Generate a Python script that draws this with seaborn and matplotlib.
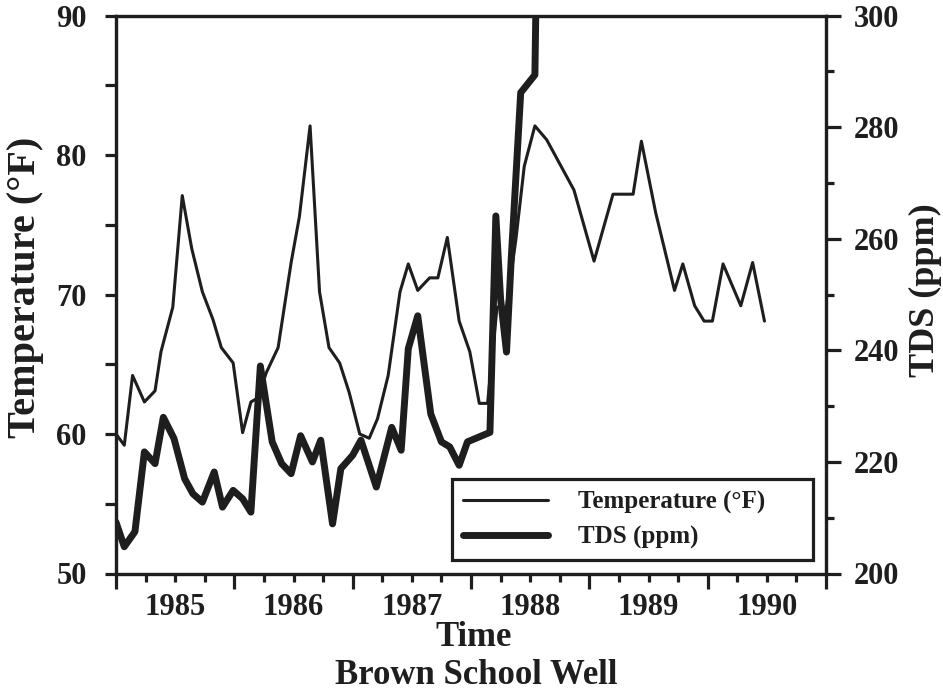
import matplotlib
matplotlib.use("Agg")
import matplotlib.pyplot as plt
import seaborn as sns
import pandas as pd
from matplotlib.lines import Line2D

# ---------------- data ----------------
temp_time = [1984.50, 1984.57, 1984.64, 1984.74, 1984.83, 1984.88, 1984.98, 1985.06,
             1985.14, 1985.23, 1985.32, 1985.39, 1985.49, 1985.57, 1985.64, 1985.70,
             1985.77, 1985.87, 1985.98, 1986.05, 1986.14, 1986.22, 1986.30, 1986.39,
             1986.47, 1986.56, 1986.64, 1986.71, 1986.80, 1986.90, 1986.97, 1987.05,
             1987.15, 1987.22, 1987.30, 1987.40, 1987.49, 1987.57, 1987.64, 1987.72,
             1987.80, 1987.88, 1987.95, 1988.04, 1988.14, 1988.37, 1988.54, 1988.70,
             1988.87, 1988.94, 1989.06, 1989.22, 1989.29, 1989.39, 1989.47, 1989.54,
             1989.63, 1989.78, 1989.88, 1989.98]
temperature_f = [60.0, 59.2, 64.2, 62.3, 63.1, 65.9, 69.1, 77.1,
                 73.3, 70.2, 68.2, 66.2, 65.1, 60.1, 62.3, 62.6,
                 64.4, 66.2, 72.3, 75.6, 82.1, 70.2, 66.2, 65.1,
                 63.0, 60.0, 59.7, 61.1, 64.2, 70.2, 72.2, 70.3,
                 71.2, 71.2, 74.1, 68.1, 65.9, 62.2, 62.2, 69.1,
                 69.1, 74.0, 79.2, 82.1, 81.1, 77.5, 72.4, 77.2,
                 77.2, 81.0, 75.9, 70.3, 72.2, 69.2, 68.1, 68.1,
                 72.2, 69.2, 72.3, 68.1]

tds_time = [1984.50, 1984.57, 1984.66, 1984.74, 1984.83, 1984.90, 1984.99, 1985.08,
            1985.15, 1985.23, 1985.33, 1985.40, 1985.49, 1985.57, 1985.64, 1985.72,
            1985.82, 1985.90, 1985.98, 1986.06, 1986.16, 1986.23, 1986.33, 1986.40,
            1986.50, 1986.57, 1986.70, 1986.83, 1986.91, 1986.97, 1987.05, 1987.16,
            1987.25, 1987.32, 1987.40, 1987.47, 1987.66, 1987.71, 1987.75, 1987.80,
            1987.84, 1987.92, 1988.04, 1988.05]
tds_ppm = [209.2, 204.8, 207.5, 221.8, 219.7, 228.0, 224.2, 217.0,
           214.3, 212.8, 218.2, 211.9, 214.9, 213.4, 211.0, 237.2,
           223.6, 219.7, 217.9, 224.7, 220.0, 223.9, 208.9, 218.8,
           221.2, 223.9, 215.5, 226.2, 222.1, 240.3, 246.2, 228.6,
           223.6, 222.7, 219.4, 223.6, 225.3, 264.1, 249.2, 239.7,
           256.4, 286.2, 289.4, 304.0]

year_labels = ["1985", "1986", "1987", "1988", "1989", "1990"]
year_centers = [1985, 1986, 1987, 1988, 1989, 1990]

temp_df = pd.DataFrame({"time": temp_time, "temp": temperature_f})
tds_df = pd.DataFrame({"time": tds_time, "tds": tds_ppm})

# ---------------- style ----------------
sns.set_style("ticks")
plt.rcParams["font.family"] = ["Liberation Serif", "DejaVu Serif"]
plt.rcParams["font.weight"] = "bold"
plt.rcParams["axes.labelweight"] = "bold"

INK = "#1e1e1e"
W, H = 943, 696
fig = plt.figure(figsize=(W / 100, H / 100), dpi=100)
fig.patch.set_facecolor("white")

L, R, T, B = 116, 826, 15.7, 573.5
ax = fig.add_axes([L / W, 1 - B / H, (R - L) / W, (B - T) / H])
ax2 = ax.twinx()

sns.lineplot(data=temp_df, x="time", y="temp", ax=ax, color=INK, linewidth=2.2,
             sort=False, legend=False)
sns.lineplot(data=tds_df, x="time", y="tds", ax=ax2, color=INK, linewidth=5.0,
             sort=False, legend=False)

ax.set_xlim(1984.5, 1990.5)
ax.set_ylim(50, 90)
ax2.set_ylim(200, 300)

# spines
for a in (ax, ax2):
    for s in a.spines.values():
        s.set_linewidth(2.3)
        s.set_color(INK)
        s.set_visible(True)

# x ticks: long ticks at half-years, short quarterly ticks, labels at year centers
half_years = [1984.5 + k for k in range(7)]
quarters = [1984.5 + 0.25 * k for k in range(25)]
minor_pos = [q for q in quarters if q not in half_years]
ax.set_xticks(half_years)
ax.set_xticklabels([""] * len(half_years))
ax.set_xticks(minor_pos, minor=True)
ax.set_xticklabels([year_labels[year_centers.index(int(p))] if float(p).is_integer() else ""
                    for p in minor_pos], minor=True)
ax.tick_params(axis="x", which="major", direction="out", length=11, width=2.3, color=INK)
ax.tick_params(axis="x", which="minor", direction="out", length=6, width=2.3, color=INK,
               labelsize=22, pad=8, labelcolor=INK)

# left y ticks
ax.set_yticks([50, 60, 70, 80, 90])
ax.set_yticks([55, 65, 75, 85], minor=True)
ax.tick_params(axis="y", which="both", direction="out", length=8, width=2.3, color=INK,
               labelsize=22, pad=13, labelcolor=INK)

# right y ticks
ax2.set_yticks([200, 220, 240, 260, 280, 300])
ax2.set_yticks([210, 230, 250, 270, 290], minor=True)
ax2.tick_params(axis="y", which="major", direction="out", length=11, width=2.3, color=INK,
                labelsize=22, pad=9, labelcolor=INK)
ax2.tick_params(axis="y", which="minor", direction="out", length=6, width=2.3, color=INK)

for lab in ax.get_xticklabels(minor=True) + ax.get_yticklabels() + ax2.get_yticklabels():
    lab.set_fontweight("bold")

# labels
xl = ax.set_xlabel("Time", fontsize=25, fontweight="bold", color=INK)
xl.set_va("center")
ax.xaxis.set_label_coords((474 - L) / (R - L), (B - 638) / (B - T))
yl = ax.set_ylabel("Temperature (°F)", fontsize=29, fontweight="bold", color=INK)
yl.set_va("center")
ax.yaxis.set_label_coords((26 - L) / (R - L), (B - 287) / (B - T))
yr = ax2.set_ylabel("TDS (ppm)", fontsize=26, fontweight="bold", color=INK, rotation=90)
yr.set_va("center")
ax2.yaxis.set_label_coords((925 - L) / (R - L), (B - 290) / (B - T))
fig.text(476 / W, 1 - 676 / H, "Brown School Well", ha="center", va="center",
         fontsize=25, fontweight="bold", color=INK)

# legend
handles = [Line2D([0], [0], color=INK, linewidth=2.2),
           Line2D([0], [0], color=INK, linewidth=5.0)]
leg = ax2.legend(handles, ["Temperature (°F)", "TDS (ppm)"],
                 loc="lower left",
                 bbox_to_anchor=((452 - L) / (R - L), (B - 560) / (B - T),
                                 (813 - 452) / (R - L), (560 - 469) / (B - T)),
                 mode="expand", borderaxespad=0, fancybox=False, framealpha=1,
                 edgecolor=INK, prop={"size": 18, "weight": "bold"},
                 handlelength=3.4, handletextpad=1.2, labelspacing=0.45,
                 borderpad=0.45)
leg.get_frame().set_linewidth(2.3)
for t in leg.get_texts():
    t.set_color(INK)

fig.savefig("out.png", dpi=100, facecolor="white")
